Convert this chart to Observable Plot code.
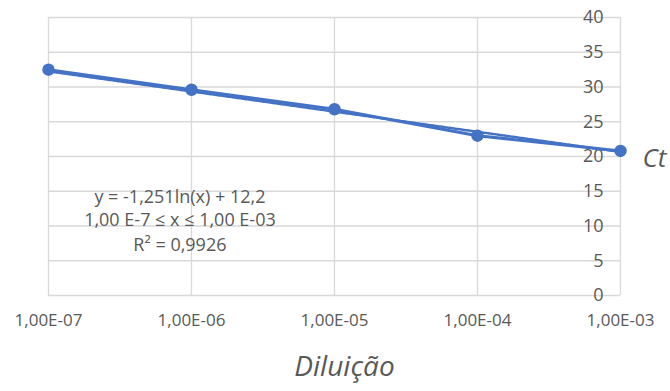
<!DOCTYPE html>
<html>
<head>
<meta charset="utf-8">
<script src="https://cdn.jsdelivr.net/npm/d3@7"></script>
<script src="https://cdn.jsdelivr.net/npm/@observablehq/plot@0.6"></script>
<style>
  html, body { margin: 0; padding: 0; background: #fff; }
  svg { display: block; }
</style>
</head>
<body>
<div id="chart"></div>
<script>
// Data
const dilutions = [1e-7, 1e-6, 1e-5, 1e-4, 1e-3];
const ctValues = [32.5, 29.6, 26.8, 23.0, 20.8];
const xTickLabels = ["1,00E-07", "1,00E-06", "1,00E-05", "1,00E-04", "1,00E-03"];
const yTicks = [0, 5, 10, 15, 20, 25, 30, 35, 40];
const trendX = [1e-7, 1e-3];
const trendCt = [32.4, 20.8];
const equationLines = ["y = -1,251ln(x) + 12,2", "1,00 E-7 ≤ x ≤ 1,00 E-03", "R² = 0,9926"];
const equationX = [8.3e-7, 8.3e-7, 8.3e-7];
const equationY = [14.1, 10.8, 7.2];

const points = dilutions.map((d, i) => ({x: d, y: ctValues[i]}));
const trend = trendX.map((d, i) => ({x: d, y: trendCt[i]}));
const eq = equationLines.map((t, i) => ({t, x: equationX[i], y: equationY[i]}));

const font = "'Open Sans', sans-serif";
const textColor = "#595959";
const blue = "#4472C4";
const gridColor = "#d9d9d9";

const chart = Plot.plot({
  width: 670,
  height: 391,
  marginLeft: 48,
  marginRight: 50,
  marginTop: 17,
  marginBottom: 96,
  style: {fontFamily: font, background: "#fff"},
  x: {type: "log", domain: [1e-7, 1e-3]},
  y: {domain: [0, 40]},
  marks: [
    Plot.gridY(yTicks, {stroke: gridColor, strokeOpacity: 1, strokeWidth: 1.3}),
    Plot.gridX(dilutions, {stroke: gridColor, strokeOpacity: 1, strokeWidth: 1.3}),
    Plot.axisY(yTicks, {anchor: "left", tickSize: 0, tickPadding: 0, dx: 555, fontSize: 18, fill: textColor, label: null}),
    Plot.axisX(dilutions, {tickSize: 0, tickPadding: 18, fontSize: 17, fill: textColor, label: null,
      tickFormat: (d) => xTickLabels[dilutions.indexOf(d)]}),
    Plot.text(eq, {x: "x", y: "y", text: "t", fontSize: 18, fill: textColor, textAnchor: "middle", style: "letter-spacing:-0.6px"}),
    Plot.line(trend, {x: "x", y: "y", stroke: blue, strokeWidth: 2.5, strokeDasharray: "1.5,1.5", dy: 1}),
    Plot.line(points, {x: "x", y: "y", stroke: blue, strokeWidth: 3}),
    Plot.dot(points, {x: "x", y: "y", r: 5.5, fill: blue, stroke: blue}),
    Plot.text(["Ct"], {frameAnchor: "right", dx: 22, dy: 2, textAnchor: "start", fontSize: 26, fontStyle: "italic", fill: textColor}),
    Plot.text(["Diluição"], {frameAnchor: "bottom", dx: 10, dy: 80, fontSize: 28, fontStyle: "italic", fill: textColor})
  ]
});
document.getElementById("chart").appendChild(chart);
</script>
</body>
</html>
